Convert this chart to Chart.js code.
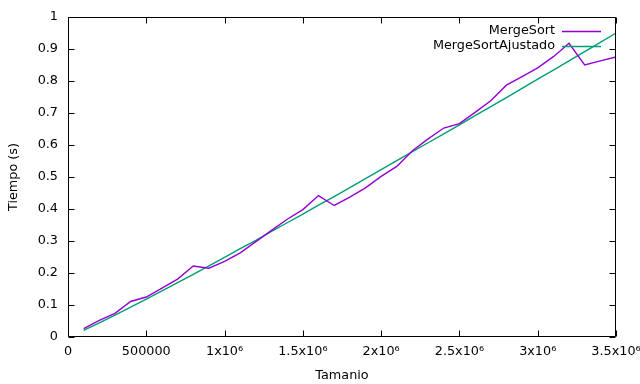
<!DOCTYPE html>
<html>
<head>
<meta charset="utf-8">
<script src="https://cdn.jsdelivr.net/npm/chart.js@4/dist/chart.umd.min.js"></script>
<style>
html,body{margin:0;padding:0;background:#fff;}
canvas{display:block;}
</style>
</head>
<body>
<canvas id="c" width="640" height="384"></canvas>
<script>
// ---- data ----
const sizes = [100000,200000,300000,400000,500000,600000,700000,800000,900000,1000000,
  1100000,1200000,1300000,1400000,1500000,1600000,1700000,1800000,1900000,2000000,
  2100000,2200000,2300000,2400000,2500000,2600000,2700000,2800000,2900000,3000000,
  3100000,3200000,3300000,3400000,3500000];
const mergeSort = [0.026,0.052,0.074,0.111,0.125,0.153,0.181,0.222,0.215,0.236,
  0.263,0.298,0.333,0.368,0.398,0.442,0.411,0.437,0.466,0.502,
  0.533,0.582,0.619,0.653,0.667,0.702,0.738,0.787,0.814,0.841,
  0.876,0.918,0.850,0.863,0.875];
const mergeSortAjustado = [0.021,0.044,0.068,0.093,0.118,0.144,0.170,0.196,0.222,0.249,
  0.276,0.302,0.330,0.357,0.384,0.412,0.439,0.467,0.495,0.523,
  0.551,0.579,0.607,0.635,0.663,0.692,0.720,0.748,0.777,0.806,
  0.834,0.863,0.892,0.921,0.950];
const seriesNames = ['MergeSort','MergeSortAjustado'];
const xTickLabels = ['0','500000','1x10\u2076','1.5x10\u2076','2x10\u2076','2.5x10\u2076','3x10\u2076','3.5x10\u2076'];
const yTickLabels = ['0','0.1','0.2','0.3','0.4','0.5','0.6','0.7','0.8','0.9','1'];
const xTitle = 'Tamanio';
const yTitle = 'Tiempo (s)';

const FONT = {family: '"DejaVu Sans", sans-serif', size: 12.8};
const colors = ['#9400d3', '#009e73'];

const framePlugin = {
  id: 'frame',
  afterDatasetsDraw(chart) {
    const ctx = chart.ctx, a = chart.chartArea;
    const L = Math.round(a.left) + 0.5, R = Math.round(a.right) - 0.5;
    const T = Math.round(a.top) + 0.5, B = Math.round(a.bottom) - 0.5;
    ctx.save();
    ctx.strokeStyle = '#000';
    ctx.lineWidth = 1;
    ctx.beginPath();
    ctx.rect(L, T, R - L, B - T);
    const tl = 6;
    const xs = chart.scales.x, ys = chart.scales.y;
    xs.ticks.forEach(t => {
      const p = Math.round(xs.getPixelForValue(t.value)) + 0.5;
      ctx.moveTo(p, B); ctx.lineTo(p, B - tl);
      ctx.moveTo(p, T); ctx.lineTo(p, T + tl);
    });
    ys.ticks.forEach(t => {
      const p = Math.round(ys.getPixelForValue(t.value)) + 0.5;
      ctx.moveTo(L, p); ctx.lineTo(L + tl, p);
      ctx.moveTo(R, p); ctx.lineTo(R - tl, p);
    });
    ctx.stroke();
    // key
    ctx.font = FONT.size + 'px ' + FONT.family;
    ctx.fillStyle = '#000';
    ctx.textAlign = 'right';
    ctx.textBaseline = 'middle';
    chart.data.datasets.forEach((ds, i) => {
      const y = 31 + i * 15;
      ctx.fillText(ds.label, 555, y);
      ctx.strokeStyle = ds.borderColor;
      ctx.lineWidth = 1.4;
      ctx.beginPath();
      ctx.moveTo(562, Math.round(y) + 0.5);
      ctx.lineTo(601, Math.round(y) + 0.5);
      ctx.stroke();
    });
    ctx.restore();
  }
};

new Chart(document.getElementById('c'), {
  type: 'line',
  data: {
    datasets: [
      {label: seriesNames[0], data: sizes.map((n, i) => ({x: n, y: mergeSort[i]})),
       borderColor: colors[0], borderWidth: 1.4, pointRadius: 0, fill: false, tension: 0},
      {label: seriesNames[1], data: sizes.map((n, i) => ({x: n, y: mergeSortAjustado[i]})),
       borderColor: colors[1], borderWidth: 1.4, pointRadius: 0, fill: false, tension: 0}
    ]
  },
  options: {
    responsive: false,
    animation: false,
    devicePixelRatio: 1,
    layout: {padding: {top: 17, right: 24, left: 0, bottom: 0}},
    plugins: {legend: {display: false}, tooltip: {enabled: false}},
    scales: {
      x: {
        type: 'linear', min: 0, max: 3500000,
        grid: {display: false, drawTicks: false},
        border: {display: false},
        ticks: {stepSize: 500000, autoSkip: false, maxRotation: 0, padding: 7,
                color: '#000', font: FONT,
                callback: (v, i) => xTickLabels[i]},
        title: {display: true, text: xTitle, color: '#000', font: FONT, padding: {top: 0, bottom: 1}},
        afterFit: s => { s.height = 47; s.paddingLeft = 0; s.paddingRight = 0; }
      },
      y: {
        type: 'linear', min: 0, max: 1,
        grid: {display: false, drawTicks: false},
        border: {display: false},
        ticks: {stepSize: 0.1, autoSkip: false, padding: 10, color: '#000', font: FONT,
                callback: (v, i) => yTickLabels[i]},
        title: {display: true, text: yTitle, color: '#000', font: FONT, padding: {top: 6, bottom: 0}},
        afterFit: s => { s.width = 68; s.paddingTop = 0; s.paddingBottom = 0; }
      }
    }
  },
  plugins: [framePlugin]
});
</script>
</body>
</html>
